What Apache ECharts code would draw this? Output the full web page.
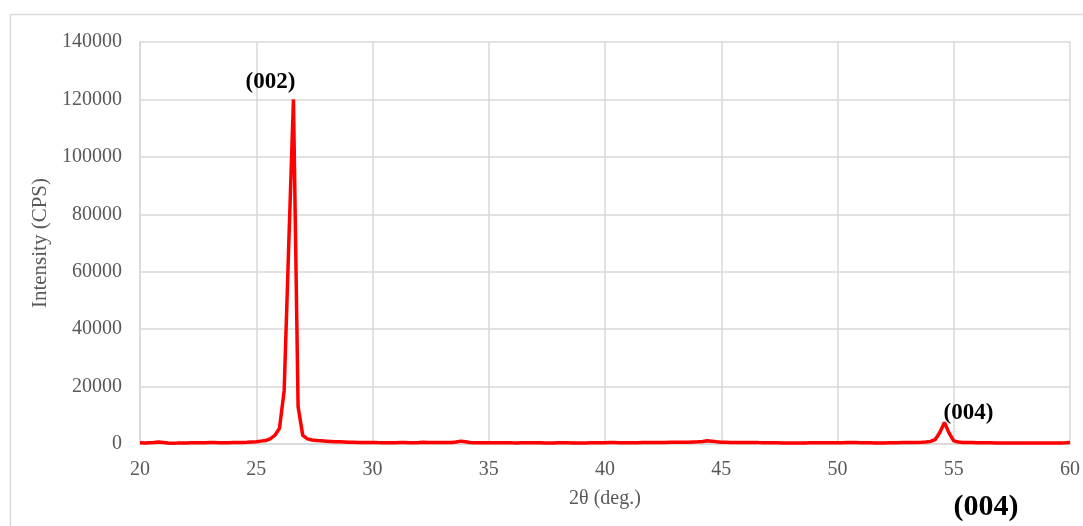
<!DOCTYPE html>
<html>
<head>
<meta charset="utf-8">
<script src="https://cdn.jsdelivr.net/npm/echarts@6/dist/echarts.min.js"></script>
<style>
  html, body { margin: 0; padding: 0; background: #ffffff; }
  #chart { width: 1083px; height: 526px; }
</style>
</head>
<body>
<div id="chart"></div>
<script>
const twoTheta = [
  20.0,20.2,20.4,20.6,20.8,21.0,21.2,21.4,21.6,21.8,
  22.0,22.2,22.4,22.6,22.8,23.0,23.2,23.4,23.6,23.8,
  24.0,24.2,24.4,24.6,24.8,25.0,25.2,25.4,25.6,25.8,
  26.0,26.2,26.4,26.6,26.8,27.0,27.2,27.4,27.6,27.8,
  28.0,28.2,28.4,28.6,28.8,29.0,29.2,29.4,29.6,29.8,
  30.0,30.2,30.4,30.6,30.8,31.0,31.2,31.4,31.6,31.8,
  32.0,32.2,32.4,32.6,32.8,33.0,33.2,33.4,33.6,33.8,
  34.0,34.2,34.4,34.6,34.8,35.0,35.2,35.4,35.6,35.8,
  36.0,36.2,36.4,36.6,36.8,37.0,37.2,37.4,37.6,37.8,
  38.0,38.2,38.4,38.6,38.8,39.0,39.2,39.4,39.6,39.8,
  40.0,40.2,40.4,40.6,40.8,41.0,41.2,41.4,41.6,41.8,
  42.0,42.2,42.4,42.6,42.8,43.0,43.2,43.4,43.6,43.8,
  44.0,44.2,44.4,44.6,44.8,45.0,45.2,45.4,45.6,45.8,
  46.0,46.2,46.4,46.6,46.8,47.0,47.2,47.4,47.6,47.8,
  48.0,48.2,48.4,48.6,48.8,49.0,49.2,49.4,49.6,49.8,
  50.0,50.2,50.4,50.6,50.8,51.0,51.2,51.4,51.6,51.8,
  52.0,52.2,52.4,52.6,52.8,53.0,53.2,53.4,53.6,53.8,
  54.0,54.2,54.4,54.6,54.8,55.0,55.2,55.4,55.6,55.8,
  56.0,56.2,56.4,56.6,56.8,57.0,57.2,57.4,57.6,57.8,
  58.0,58.2,58.4,58.6,58.8,59.0,59.2,59.4,59.6,59.8,
  60.0
];
const intensity = [
  400,380,450,500,700,550,350,300,320,350,
  380,400,420,450,450,480,500,450,420,450,
  480,500,550,600,700,800,1000,1200,1800,3000,
  5500,18500,70000,120000,13000,3000,1800,1400,1200,1100,
  1000,900,800,750,700,650,600,550,500,500,
  500,480,470,460,450,450,480,500,470,450,
  500,600,550,480,500,550,500,550,700,1000,
  800,500,450,430,420,420,410,400,420,430,
  400,380,400,420,430,420,400,380,370,380,
  400,420,400,380,370,360,380,400,420,450,
  450,480,500,470,450,430,420,450,480,500,
  550,520,500,530,600,620,600,620,650,700,
  750,900,1100,1000,800,650,600,550,520,500,
  480,500,520,480,450,430,420,400,380,370,
  360,350,360,380,400,420,430,420,400,420,
  430,450,480,500,480,450,420,400,380,370,
  380,400,420,450,480,500,520,550,600,700,
  900,1500,4000,7500,3800,1100,700,550,500,480,
  450,430,420,400,380,370,360,350,350,340,
  330,330,320,320,330,340,350,360,370,400,
  500
];
const peakLabels = [
  { name: '(002)', x: 26.6, y: 120000 },
  { name: '(004)', x: 54.6, y: 7500 }
];
const xTicks = [20, 25, 30, 35, 40, 45, 50, 55, 60];
const yTicks = [0, 20000, 40000, 60000, 80000, 100000, 120000, 140000];

const serif = '"Liberation Serif", "DejaVu Serif", serif';
const gridColor = '#d9d9d9';
const labelColor = '#595959';

const chart = echarts.init(document.getElementById('chart'));
chart.setOption({
  animation: false,
  backgroundColor: '#ffffff',
  grid: { left: 140, right: 13, top: 42, bottom: 82, containLabel: false },
  graphic: [
    {
      type: 'rect',
      shape: { x: 10.5, y: 14.5, width: 1100, height: 600 },
      style: { fill: 'none', stroke: gridColor, lineWidth: 1.5 },
      silent: true
    },
    {
      type: 'text',
      x: 986, y: 507,
      style: { text: '(004)', font: 'bold 30px ' + serif, fill: '#000000',
               align: 'center', verticalAlign: 'middle' }
    }
  ],
  xAxis: {
    type: 'value',
    min: xTicks[0], max: xTicks[xTicks.length - 1], interval: 5,
    name: '2θ (deg.)',
    nameLocation: 'middle',
    nameGap: 45,
    nameTextStyle: { fontFamily: serif, fontSize: 20, color: labelColor },
    axisLine: { show: true, lineStyle: { color: gridColor, width: 1.5 } },
    axisTick: { show: false },
    axisLabel: { fontFamily: serif, fontSize: 20, color: labelColor, margin: 16 },
    splitLine: { show: true, lineStyle: { color: gridColor, width: 1.5 } }
  },
  yAxis: {
    type: 'value',
    min: yTicks[0], max: yTicks[yTicks.length - 1], interval: 20000,
    name: 'Intensity (CPS)',
    nameLocation: 'middle',
    nameGap: 87,
    nameRotate: 90,
    nameTextStyle: { fontFamily: serif, fontSize: 21, color: labelColor },
    axisLine: { show: true, lineStyle: { color: gridColor, width: 1.5 } },
    axisTick: { show: false },
    axisLabel: { fontFamily: serif, fontSize: 20, color: labelColor, margin: 18,
                 formatter: v => String(v) },
    splitLine: { show: true, lineStyle: { color: gridColor, width: 1.5 } }
  },
  series: [{
    type: 'line',
    data: twoTheta.map((t, i) => [t, intensity[i]]),
    showSymbol: false,
    symbol: 'none',
    lineStyle: { color: '#ff0000', width: 3.5 },
    itemStyle: { color: '#ff0000' },
    z: 3,
    markPoint: {
      symbol: 'circle',
      symbolSize: 0,
      silent: true,
      data: [
        {
          coord: [peakLabels[0].x, peakLabels[0].y], value: peakLabels[0].name,
          label: { show: true, formatter: peakLabels[0].name, offset: [-23, -17],
                   fontFamily: serif, fontWeight: 'bold', fontSize: 23, color: '#000000' }
        },
        {
          coord: [peakLabels[1].x, peakLabels[1].y], value: peakLabels[1].name,
          label: { show: true, formatter: peakLabels[1].name, offset: [24, -9],
                   fontFamily: serif, fontWeight: 'bold', fontSize: 23, color: '#000000' }
        }
      ]
    }
  }]
});
</script>
</body>
</html>
